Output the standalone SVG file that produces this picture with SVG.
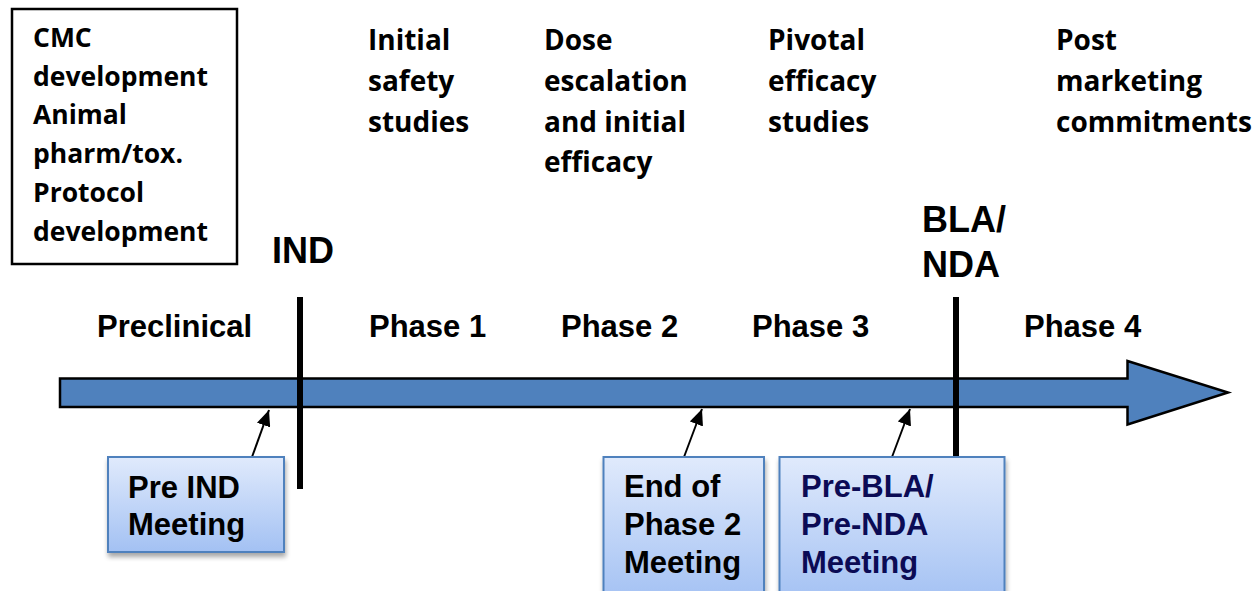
<svg xmlns="http://www.w3.org/2000/svg" width="1257" height="591" viewBox="0 0 1257 591">
<defs>
<linearGradient id="boxGrad" x1="0" y1="0" x2="0" y2="1">
<stop offset="0" stop-color="#e0eafc"/>
<stop offset="1" stop-color="#a3c1f3"/>
</linearGradient>
<filter id="shadow" x="-10%" y="-10%" width="130%" height="130%">
<feGaussianBlur in="SourceAlpha" stdDeviation="2.5"/>
<feOffset dx="1" dy="4" result="b"/>
<feComponentTransfer><feFuncA type="linear" slope="0.35"/></feComponentTransfer>
<feMerge><feMergeNode/><feMergeNode in="SourceGraphic"/></feMerge>
</filter>
<marker id="ah2" viewBox="0 0 16 14" refX="16" refY="7" markerWidth="16" markerHeight="14" markerUnits="userSpaceOnUse" orient="auto">
<path d="M0,0 L16,7 L0,14 z" fill="#000"/>
</marker>
</defs>
<style>
.cal{font-family:"Open Sans","Noto Sans","Liberation Sans",sans-serif;font-weight:bold;font-size:28px;fill:#000}
.cmc{font-size:26.5px}
.ar{font-family:"Liberation Sans",Arial,sans-serif;font-weight:bold;fill:#000}
.ph{font-size:31px}
.ms{font-size:36px}
.mt{font-size:31px}
.navy{fill:#0b0b55}
.mbox{fill:url(#boxGrad);stroke:#4f81bd;stroke-width:2}
.vline{stroke:#000;stroke-width:6}
.conn{stroke:#000;stroke-width:2;fill:none}
</style>

<g id="timeline-arrow">
<path d="M60,378.5 L1127.5,378.5 L1127.5,361 L1228,392.5 L1127.5,424.5 L1127.5,407 L60,407 Z" fill="#4f81bd" stroke="#000" stroke-width="2.5" stroke-linejoin="miter"/>
</g>

<g id="milestone-lines">
<line class="vline" x1="300" y1="297" x2="300" y2="489"/>
<line class="vline" x1="956" y1="297" x2="956" y2="458"/>
</g>

<g id="cmc-box">
<rect x="12" y="9" width="225" height="255" fill="#fff" stroke="#000" stroke-width="2.5"/>
<text class="cal cmc" x="33" y="47">CMC</text>
<text class="cal cmc" x="33" y="86">development</text>
<text class="cal cmc" x="33" y="124">Animal</text>
<text class="cal cmc" x="33" y="163">pharm/tox.</text>
<text class="cal cmc" x="33" y="202">Protocol</text>
<text class="cal cmc" x="33" y="241">development</text>
</g>

<g id="label-phase1-desc">
<text class="cal" x="368" y="50">Initial</text>
<text class="cal" x="368" y="91">safety</text>
<text class="cal" x="368" y="132">studies</text>
</g>
<g id="label-phase2-desc">
<text class="cal" x="544" y="50">Dose</text>
<text class="cal" x="544" y="91">escalation</text>
<text class="cal" x="544" y="132">and initial</text>
<text class="cal" x="544" y="172">efficacy</text>
</g>
<g id="label-phase3-desc">
<text class="cal" x="768" y="50">Pivotal</text>
<text class="cal" x="768" y="91">efficacy</text>
<text class="cal" x="768" y="132">studies</text>
</g>
<g id="label-phase4-desc">
<text class="cal" x="1056" y="50">Post</text>
<text class="cal" x="1056" y="91">marketing</text>
<text class="cal" x="1056" y="132">commitments</text>
</g>

<g id="milestone-ind">
<text class="ar ms" x="272" y="263">IND</text>
</g>
<g id="milestone-bla">
<text class="ar ms" x="922" y="232">BLA/</text>
<text class="ar ms" x="922" y="277">NDA</text>
</g>

<g id="phase-labels">
<text class="ar ph" x="97" y="337">Preclinical</text>
<text class="ar ph" x="369" y="337">Phase 1</text>
<text class="ar ph" x="561" y="337">Phase 2</text>
<text class="ar ph" x="752" y="337">Phase 3</text>
<text class="ar ph" x="1024" y="337">Phase 4</text>
</g>

<g id="connectors">
<line class="conn" x1="252" y1="457" x2="269" y2="410" marker-end="url(#ah2)"/>
<line class="conn" x1="684" y1="457" x2="702" y2="409" marker-end="url(#ah2)"/>
<line class="conn" x1="892" y1="457" x2="910" y2="409" marker-end="url(#ah2)"/>
</g>

<g id="pre-ind-meeting">
<rect class="mbox" x="108" y="457" width="176" height="95" filter="url(#shadow)"/>
<text class="ar mt" x="128" y="498">Pre IND</text>
<text class="ar mt" x="128" y="535">Meeting</text>
</g>

<g id="end-phase2-meeting">
<rect class="mbox" x="603.5" y="457" width="160.5" height="145" filter="url(#shadow)"/>
<text class="ar mt" x="624" y="497">End of</text>
<text class="ar mt" x="624" y="535">Phase 2</text>
<text class="ar mt" x="624" y="573">Meeting</text>
</g>

<g id="pre-bla-meeting">
<rect class="mbox" x="779.5" y="457" width="225" height="145" filter="url(#shadow)"/>
<text class="ar mt navy" x="801" y="497">Pre-BLA/</text>
<text class="ar mt navy" x="801" y="535">Pre-NDA</text>
<text class="ar mt navy" x="801" y="573">Meeting</text>
</g>
</svg>
